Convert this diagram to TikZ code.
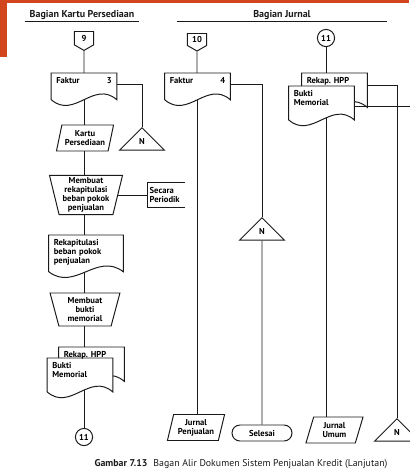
\documentclass[tikz,border=0pt]{standalone}
\usepackage{fontspec}
\setmainfont{PT Sans}
\usepackage{tikz}
\usetikzlibrary{positioning,calc,shapes.geometric,shapes.symbols,backgrounds}
\definecolor{coranye}{HTML}{D2461E}
\definecolor{cgaris}{HTML}{1A1A1A}
\newcommand{\teks}{\fontsize{6.1}{6.5}\selectfont\bfseries}
\pgfdeclarelayer{latar}
\pgfdeclarelayer{tengah}
\pgfsetlayers{latar,tengah,main}
\newcommand{\dokumen}[2]{%
  \begin{pgfonlayer}{tengah}
    \draw[garis, fill=white] let \p1=(#1.north west), \p2=(#1.south east) in
      (\x1,\y1) -- (\x2,\y1) -- (\x2,\y2-#2)
      .. controls ({\x2-0.35*(\x2-\x1)},{\y2-#2+5mm}) and ({\x1+0.35*(\x2-\x1)},{\y2-#2-5mm}) .. (\x1,\y2-#2) -- cycle;
  \end{pgfonlayer}}
\tikzset{
  garis/.style={draw=cgaris, line width=0.7pt},
  dok/.style={inner xsep=1.2mm, inner ysep=1mm, text width=#1, align=left, font=\teks},
  jajar/.style={trapezium, trapezium left angle=75, trapezium right angle=105, trapezium stretches=true,
    garis, minimum width=14.3mm, minimum height=6.5mm, align=center, font=\teks, inner sep=0.5mm},
  manual/.style={trapezium, trapezium left angle=103, trapezium right angle=103, trapezium stretches=true,
    garis, align=center, font=\teks, inner sep=0.5mm},
  segitiga/.style={isosceles triangle, isosceles triangle apex angle=90, shape border rotate=90,
    isosceles triangle stretches, garis, fill=white, minimum width=11.2mm, minimum height=5.6mm,
    inner sep=0.5pt, font=\teks},
  konektor/.style={signal, signal to=south, signal pointer angle=120, garis, minimum width=4.8mm,
    minimum height=3.8mm, inner sep=0.5pt, font=\teks},
  lingkar/.style={circle, garis, minimum size=4.3mm, inner sep=0pt, font=\teks},
  ujung/.style={rectangle, rounded corners=2mm, garis, minimum width=15mm, minimum height=4mm, font=\teks},
  judul/.style={font=\fontsize{7.1}{8}\selectfont\bfseries, inner sep=1pt, text=cgaris},
}
\begin{document}
\begin{tikzpicture}[x=0.25mm, y=-0.25mm]
  \useasboundingbox (0,0) rectangle (409,475);
  \fill[coranye] (0,0) rectangle (409,2.5);
  \fill[coranye] (0,0) rectangle (7,57);

  \node[judul, minimum width=28.5mm] (hkp) at (82,15) {Bagian Kartu Persediaan};
  \draw[garis, line width=0.5pt] (hkp.south west) -- (hkp.south east);
  \node[judul, minimum width=52.5mm] (hj) at (282,15) {Bagian Jurnal};
  \draw[garis, line width=0.5pt] (hj.south west) -- (hj.south east);

  \node[konektor, anchor=north] (p9) at (84,31) {9};
  \node[dok=13.85mm, anchor=north] (f3) at (84,73) {Faktur\hfill 3};
  \node[segitiga, anchor=apex] (n1) at (142,127) {N};
  \node[jajar] (kp) at (85,138) {Kartu\\Persediaan};
  \node[manual, minimum width=18.25mm, minimum height=9.5mm] (mr) at (86,195) {Membuat\\rekapitulasi\\beban pokok\\penjualan};
  \node[anchor=west, text width=8.2mm, minimum height=5.5mm, inner xsep=0.6mm, align=left, font=\teks] (sp) at (147,195) {Secara\\Periodik};
  \node[dok=16.1mm, anchor=north] (rk) at (86,235) {Rekapitulasi\\beban pokok\\penjualan};
  \node[manual, minimum width=17.5mm, minimum height=8.25mm] (mb) at (85,309.5) {Membuat\\bukti\\memorial};
  \node[dok=13.85mm, anchor=north] (rh) at (91.5,347) {Rekap.\ HPP};
  \node[dok=13.85mm, anchor=north] (bm) at (80,358) {Bukti\\Memorial};
  \node[lingkar] (c11b) at (84,437) {11};

  \node[konektor, anchor=north] (p10) at (197,33) {10};
  \node[dok=13.85mm, anchor=north] (f4) at (197.5,73) {Faktur\hfill 4};
  \node[segitiga, anchor=apex] (n2) at (262,217) {N};
  \node[jajar] (jp) at (196,427.5) {Jurnal\\Penjualan};
  \node[ujung] (sl) at (262,433) {Selesai};

  \node[lingkar] (c11a) at (326,38) {11};
  \node[dok=13.85mm, anchor=north] (rh2) at (334.5,73) {Rekap.\ HPP};
  \node[dok=13.85mm, anchor=north] (bm2) at (321.5,86) {Bukti\\Memorial};
  \node[segitiga, anchor=apex] (n3) at (397,418) {N};
  \node[jajar] (ju) at (334.5,430) {Jurnal\\Umum};
  \coordinate (tepi) at (412,106);

  \node[font=\fontsize{7}{8}\selectfont, text=cgaris] (cap) at (241,464)
    {\textbf{Gambar 7.13}\hspace{1.5mm}Bagan Alir Dokumen Sistem Penjualan Kredit (Lanjutan)};

  \dokumen{f3}{3mm}
  \dokumen{f4}{3mm}
  \dokumen{rk}{0.5mm}
  \dokumen{rh}{4.5mm}
  \dokumen{bm}{2.5mm}
  \dokumen{rh2}{4.5mm}
  \dokumen{bm2}{2.5mm}
  \draw[garis] (sp.north east) -- (sp.north west) -- (sp.south west) -- (sp.south east);

  \begin{pgfonlayer}{latar}
    \draw[garis] (p9) -- (p9 |- f3.north);
    \draw[garis] (p9 |- f3.south) -- (p9 |- kp.north);
    \draw[garis] (p9 |- kp.south) -- (p9 |- mr.north);
    \draw[garis] (p9 |- mr.south) -- (p9 |- rk.north);
    \draw[garis] (p9 |- rk.south) -- (p9 |- mb.north);
    \draw[garis] (p9 |- mb.south) -- (p9 |- rh.north);
    \draw[garis] (c11b |- bm.south) -- (c11b);
    \draw[garis] ([yshift=-1mm]f3.east) -| (n1.apex);
    \draw[garis] (mr.east) -- (mr.east -| sp.west);
    \draw[garis] (p10) -- (p10 |- f4.north);
    \draw[garis] (p10 |- f4.south) -- (p10 |- jp.north);
    \draw[garis] ([yshift=-1mm]f4.east) -| (n2.apex);
    \draw[garis] (n2) -- (sl);
    \draw[garis] (c11a) -- (c11a |- rh2.north);
    \draw[garis] ([yshift=-1mm]rh2.east) -| (n3.apex);
    \draw[garis] (bm2.east |- tepi) -- (tepi);
    \draw[garis] (c11a |- bm2.south) -- (c11a |- ju.north);
  \end{pgfonlayer}
\end{tikzpicture}
\end{document}
